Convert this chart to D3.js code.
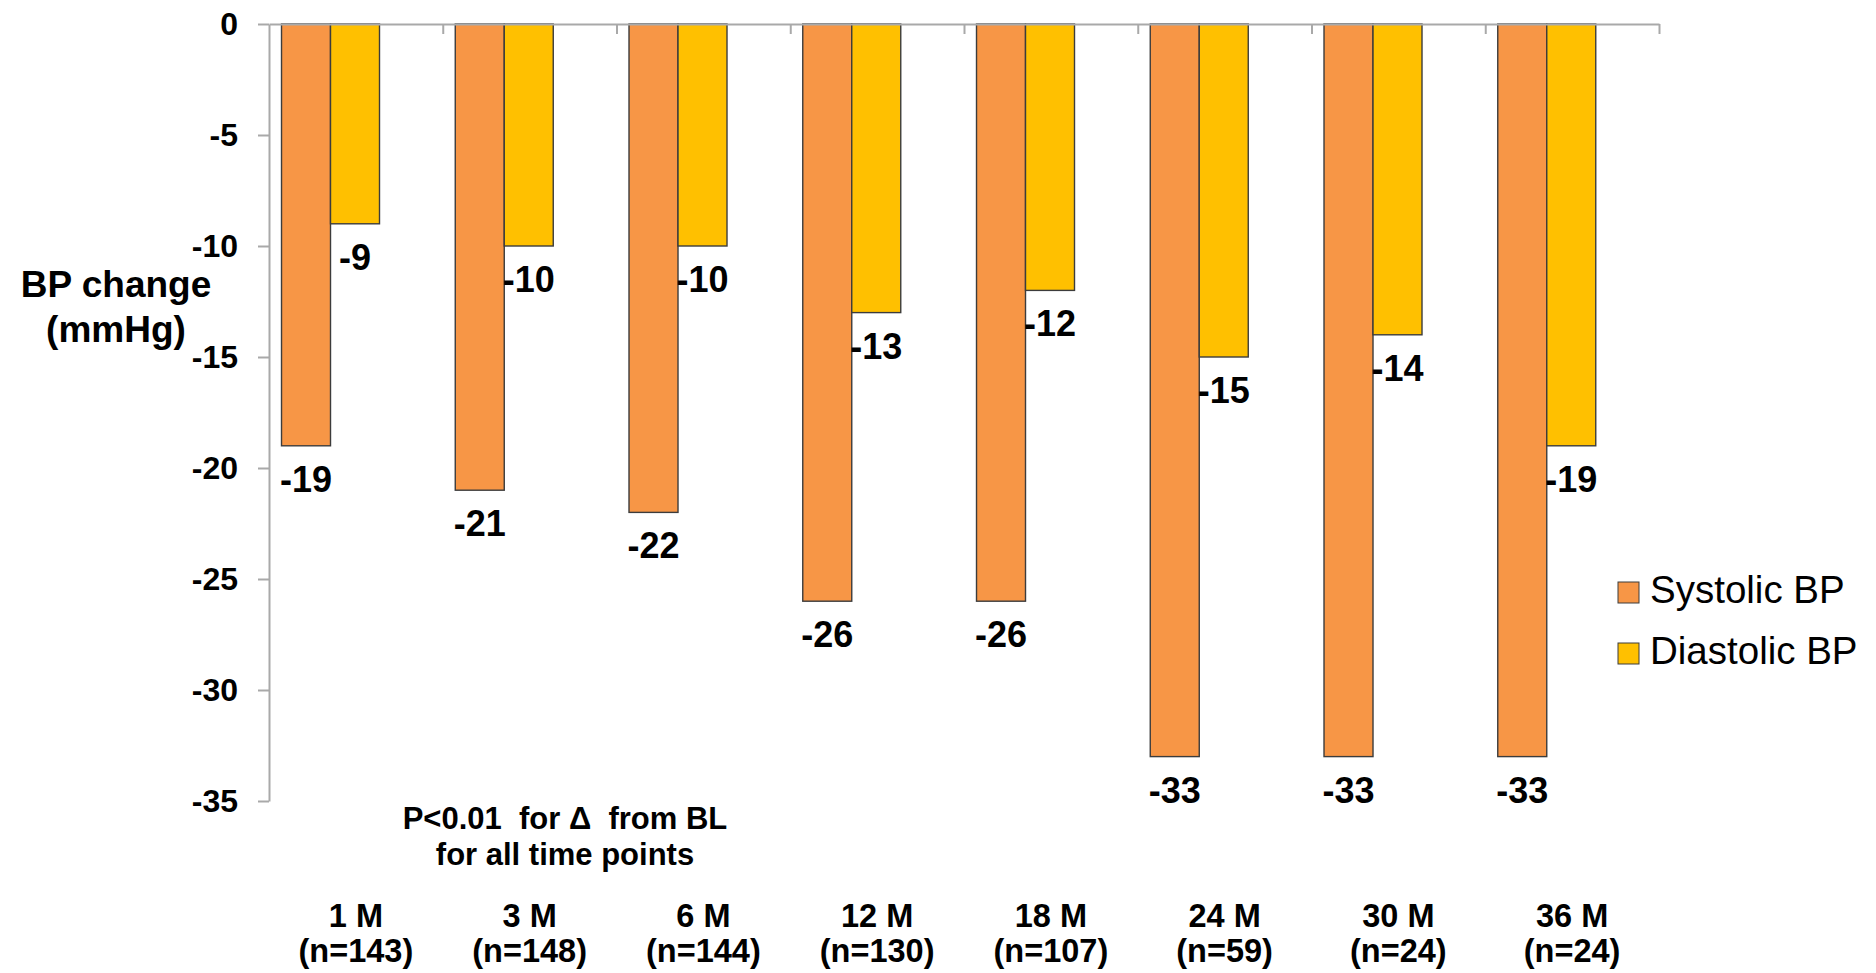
<!DOCTYPE html>
<html>
<head>
<meta charset="utf-8">
<script src="https://cdn.jsdelivr.net/npm/d3@7"></script>
<style>
  html, body { margin: 0; padding: 0; background: #ffffff; }
  svg { display: block; font-family: "Liberation Sans", Arial, sans-serif; }
  .ann { white-space: pre; }
</style>
</head>
<body>
<svg id="chart" width="1876" height="973"></svg>
<script>
// Time points after baseline and number of patients at each
const timePoints = ["1 M", "3 M", "6 M", "12 M", "18 M", "24 M", "30 M", "36 M"];
const patientCounts = ["(n=143)", "(n=148)", "(n=144)", "(n=130)", "(n=107)", "(n=59)", "(n=24)", "(n=24)"];

// Mean change from baseline, mmHg
const systolicChange = [-19, -21, -22, -26, -26, -33, -33, -33];
const diastolicChange = [-9, -10, -10, -13, -12, -15, -14, -19];

const seriesNames = ["Systolic BP", "Diastolic BP"];
const seriesColors = ["#F79646", "#FFC000"];

const yTickValues = [0, -5, -10, -15, -20, -25, -30, -35];

const svg = d3.select("#chart");

const plot = { left: 269, right: 1659, top: 24, bottom: 801 };

const x = d3.scaleBand()
  .domain(timePoints)
  .range([plot.left, plot.right])
  .padding(0);

const y = d3.scaleLinear()
  .domain([-35, 0])
  .range([plot.bottom, plot.top]);

const bw = x.bandwidth();
const barOffset = bw * 0.072;
const barWidth = bw * 0.282;

const rows = timePoints.map((t, i) => ({
  t, i,
  values: [systolicChange[i], diastolicChange[i]]
}));

// Bars
const groups = svg.append("g").selectAll("g")
  .data(rows)
  .join("g");

groups.selectAll("rect")
  .data(d => d.values.map((v, s) => ({ t: d.t, v, s })))
  .join("rect")
  .attr("x", d => x(d.t) + barOffset + d.s * barWidth)
  .attr("y", y(0))
  .attr("width", barWidth)
  .attr("height", d => y(d.v) - y(0))
  .attr("fill", d => seriesColors[d.s])
  .attr("stroke", "#3c3c3c")
  .attr("stroke-width", 1.4);

// Value labels under each bar end
groups.selectAll("text.val")
  .data(d => d.values.map((v, s) => ({ t: d.t, v, s })))
  .join("text")
  .attr("class", "val")
  .attr("x", d => x(d.t) + barOffset + d.s * barWidth + barWidth / 2)
  .attr("y", d => y(d.v) + 46)
  .attr("text-anchor", "middle")
  .attr("font-size", 36)
  .attr("font-weight", "bold")
  .attr("fill", "#000")
  .text(d => String(d.v));

// Value axis
const yAxis = svg.append("g")
  .attr("transform", `translate(${plot.left},0)`)
  .call(d3.axisLeft(y).tickValues(yTickValues).tickSizeInner(11).tickSizeOuter(0).tickPadding(20).tickFormat(d => String(d)));
yAxis.selectAll("text")
  .attr("font-size", 32)
  .attr("font-weight", "bold")
  .attr("fill", "#000")
  .attr("font-family", "Liberation Sans, Arial, sans-serif");

// Category axis along zero, with ticks between time points
const xBound = d3.scaleLinear().domain([0, timePoints.length]).range([plot.left, plot.right]);
svg.append("g")
  .attr("transform", `translate(0,${y(0)})`)
  .call(d3.axisBottom(xBound).tickValues(d3.range(1, timePoints.length + 1)).tickSizeInner(10).tickSizeOuter(0).tickFormat(""));

svg.selectAll(".domain, .tick line")
  .attr("stroke", "#A9A9A9")
  .attr("stroke-width", 2);

// Time point labels
const catLabels = svg.append("g").selectAll("text")
  .data(rows)
  .join("text")
  .attr("text-anchor", "middle")
  .attr("font-size", 32.5)
  .attr("font-weight", "bold")
  .attr("fill", "#000");
catLabels.append("tspan")
  .attr("x", d => x(d.t) + bw / 2)
  .attr("y", 927)
  .text(d => d.t);
catLabels.append("tspan")
  .attr("x", d => x(d.t) + bw / 2)
  .attr("y", 962)
  .text(d => patientCounts[d.i]);

// Axis title
const title = svg.append("text")
  .attr("text-anchor", "middle")
  .attr("font-size", 37)
  .attr("font-weight", "bold")
  .attr("fill", "#000");
title.append("tspan").attr("x", 116).attr("y", 297).text("BP change");
title.append("tspan").attr("x", 116).attr("y", 342).text("(mmHg)");

// Significance note
const note = svg.append("text")
  .attr("class", "ann")
  .attr("text-anchor", "middle")
  .attr("font-size", 31)
  .attr("font-weight", "bold")
  .attr("fill", "#000");
note.append("tspan").attr("x", 565).attr("y", 829).text("P<0.01  for \u0394  from BL");
note.append("tspan").attr("x", 565).attr("y", 865).text("for all time points");

// Legend
const legend = svg.append("g").selectAll("g")
  .data(seriesNames)
  .join("g")
  .attr("transform", (d, i) => `translate(1618,${582 + i * 61})`);
legend.append("rect")
  .attr("width", 21)
  .attr("height", 21)
  .attr("fill", (d, i) => seriesColors[i])
  .attr("stroke", "#3c3c3c")
  .attr("stroke-width", 1);
legend.append("text")
  .attr("x", 32)
  .attr("y", 21)
  .attr("font-size", 38.5)
  .attr("fill", "#000")
  .text(d => d);
</script>
</body>
</html>
